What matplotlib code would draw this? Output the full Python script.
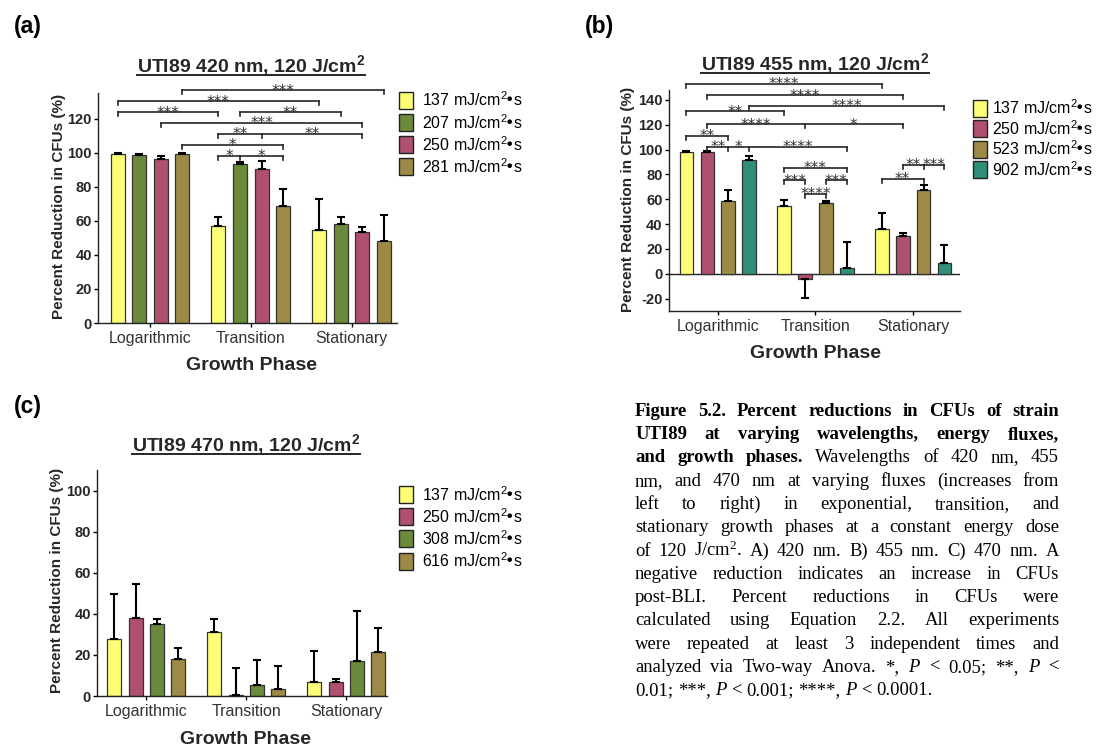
import matplotlib.pyplot as plt
import numpy as np
from matplotlib.patches import Rectangle
from matplotlib.lines import Line2D

plt.rcParams['font.family'] = 'Liberation Sans'
plt.rcParams['mathtext.default'] = 'regular'
plt.rcParams['axes.unicode_minus'] = False

W, H = 1096, 748
TXT = '#262626'

# ---- data -------------------------------------------------------------
phases = ['Logarithmic', 'Transition', 'Stationary']

# (a) 420 nm
flux_a = ['137', '207', '250', '281']
vals_a = [[99.2, 57.0, 54.6], [98.8, 93.3, 57.9], [96.4, 90.3, 53.4], [99.2, 68.9, 48.3]]
errs_a = [[0.5, 5.5, 18.4], [0.6, 1.0, 4.6], [1.4, 4.6, 3.0], [0.5, 9.9, 14.9]]

# (b) 455 nm
flux_b = ['137', '250', '523', '902']
vals_b = [[98.4, 54.2, 36.2], [98.4, -4.0, 30.3], [58.4, 56.6, 67.3], [91.7, 4.6, 8.8]]
errs_b = [[0.4, 5.6, 13.1], [0.5, 15.6, 2.9], [9.4, 2.4, 4.3], [2.9, 20.6, 14.0]]

# (c) 470 nm
flux_c = ['137', '250', '308', '616']
vals_c = [[27.6, 31.0, 7.0], [37.8, 0.3, 6.7], [35.1, 5.4, 17.2], [17.9, 3.2, 21.3]]
errs_c = [[22.1, 6.5, 15.1], [16.7, 13.2, 1.7], [2.4, 12.3, 24.2], [5.3, 11.4, 11.8]]

# significance brackets: ([(phase, bar), ...], level, [labels per segment])
sig_a = [
    ([(0, 3), (2, 3)], 136.7, ['***']),
    ([(0, 0), (2, 0)], 130.2, ['***']),
    ([(0, 0), (1, 0)], 123.7, ['***']),
    ([(1, 1), (2, 1)], 123.7, ['**']),
    ([(0, 2), (2, 2)], 117.6, ['***']),
    ([(1, 0), (1, 2), (2, 2)], 111.0, ['**', '**']),
    ([(0, 3), (1, 3)], 104.7, ['*']),
    ([(1, 0), (1, 1), (1, 3)], 98.2, ['*', '*']),
]
sig_b = [
    ([(0, 0), (2, 0)], 153.0, ['****']),
    ([(0, 1), (2, 1)], 144.0, ['****']),
    ([(0, 3), (2, 3)], 135.4, ['****']),
    ([(0, 0), (1, 0)], 130.8, ['**']),
    ([(0, 1), (1, 1), (2, 1)], 120.6, ['****', '*']),
    ([(0, 0), (0, 2)], 111.3, ['**']),
    ([(0, 1), (0, 2), (0, 3), (1, 3)], 102.2, ['**', '*', '****']),
    ([(1, 0), (1, 3)], 85.3, ['***']),
    ([(1, 0), (1, 1)], 75.3, ['***']),
    ([(1, 2), (1, 3)], 75.3, ['***']),
    ([(1, 1), (1, 2)], 64.4, ['****']),
    ([(2, 1), (2, 2), (2, 3)], 87.9, ['**', '***']),
    ([(2, 0), (2, 2)], 76.4, ['**']),
]

yellow, green, pink, olive, teal = '#FFFF77', '#6B8B3A', '#B0506F', '#9C8A46', '#2F8F78'
cols_a = [yellow, green, pink, olive]
cols_b = [yellow, pink, olive, teal]
cols_c = [yellow, pink, green, olive]

caption = [
    [('bold', 'Figure 5.2. Percent reductions in CFUs of strain')],
    [('bold', 'UTI89 at varying wavelengths, energy fluxes,')],
    [('bold', 'and growth phases.'), ('normal', 'Wavelengths of 420 nm, 455')],
    [('normal', 'nm, and 470 nm at varying fluxes (increases from')],
    [('normal', 'left to right) in exponential, transition, and')],
    [('normal', 'stationary growth phases at a constant energy dose')],
    [('normal', 'of 120 J/cm$^2$. A) 420 nm. B) 455 nm. C) 470 nm. A')],
    [('normal', 'negative reduction indicates an increase in CFUs')],
    [('normal', 'post-BLI. Percent reductions in CFUs were')],
    [('normal', 'calculated using Equation 2.2. All experiments')],
    [('normal', 'were repeated at least 3 independent times and')],
    [('normal', 'analyzed via Two-way Anova. *,'), ('italic', 'P'), ('normal', '< 0.05; **,'),
     ('italic', 'P'), ('normal', '<')],
    [('normal', '0.01; ***,'), ('italic', 'P'), ('normal', '< 0.001; ****,'), ('italic', 'P'),
     ('normal', '< 0.0001.')],
]

# ---- helpers ----------------------------------------------------------
fig = plt.figure(figsize=(W / 100, H / 100), dpi=100)
renderer = fig.canvas.get_renderer()

BAR_W, STEP = 0.14, 0.214
offs = [(i - 1.5) * STEP for i in range(4)]


def fx(px):
    return px / W


def fy(py):
    return 1 - py / H


def panel(rect, vals, errs, cols, ylim, xlim, yticks):
    ax = fig.add_axes([fx(rect[0]), fy(rect[1]), rect[2] / W, rect[3] / H])
    x = np.arange(len(phases))
    for i, (v, e, c) in enumerate(zip(vals, errs, cols)):
        v = np.array(v)
        e = np.array(e)
        ax.bar(x + offs[i], v, BAR_W, color=c, edgecolor='#333333', linewidth=0.9, zorder=2)
        lo = np.where(v < 0, e, 0)
        hi = np.where(v >= 0, e, 0)
        ax.errorbar(x + offs[i], v, yerr=[lo, hi], fmt='none', ecolor='black',
                    elinewidth=1.5, capsize=3.2, capthick=1.5, zorder=3)
    ax.set_xlim(*xlim)
    ax.set_ylim(*ylim)
    ax.set_yticks(yticks)
    ax.set_xticks(x)
    ax.set_xticklabels(phases, fontsize=11.5, color='#333333')
    for lab in ax.get_yticklabels():
        lab.set_fontweight('bold')
        lab.set_fontsize(10.5)
        lab.set_color(TXT)
    ax.tick_params(axis='y', length=3, width=1, pad=1.5)
    ax.tick_params(axis='x', length=3, width=1, pad=3)
    for s in ['top', 'right']:
        ax.spines[s].set_visible(False)
    for s in ['left', 'bottom']:
        ax.spines[s].set_linewidth(1.0)
        ax.spines[s].set_color('#222222')
    return ax


def brackets(ax, sig, tick_px=4):
    y0, y1 = ax.get_ylim()
    hpx = ax.get_position().height * H
    tick = tick_px * (y1 - y0) / hpx
    for pts, y, labels in sig:
        xs = [g + offs[i] for g, i in pts]
        ax.plot([xs[0], xs[-1]], [y, y], color=TXT, lw=1.2, clip_on=False, zorder=4)
        for xx in xs:
            ax.plot([xx, xx], [y, y - tick], color=TXT, lw=1.2, clip_on=False, zorder=4)
        for k, lab in enumerate(labels):
            ax.annotate(lab, ((xs[k] + xs[k + 1]) / 2, y), xytext=(0, -4),
                        textcoords='offset points', ha='center', va='baseline',
                        family='DejaVu Sans', fontsize=11, color='#333333',
                        annotation_clip=False)


def title(cx, py, text):
    t = fig.text(fx(cx), fy(py), text, ha='center', va='baseline', fontsize=14,
                 fontweight='bold', color=TXT)
    bb = t.get_window_extent(renderer)
    fig.add_artist(Line2D([bb.x0 / W, bb.x1 / W], [fy(py + 3)] * 2, color=TXT, lw=1.4))


def legend(px, py, dy, gap, fluxes, cols):
    for k, (f, c) in enumerate(zip(fluxes, cols)):
        yc = py + k * dy
        fig.add_artist(Rectangle((fx(px), fy(yc + 8.5)), 14 / W, 17 / H, transform=fig.transFigure,
                                 facecolor=c, edgecolor='#222222', lw=1))
        fig.text(fx(px + gap), fy(yc), f + r' mJ/cm$^2\!$•s', va='center', ha='left',
                 fontsize=11.5, color='black')


def labels(ylab_x, ylab_y, xlab_x, xlab_y):
    fig.text(fx(ylab_x), fy(ylab_y), 'Percent Reduction in CFUs (%)', rotation=90,
             ha='center', va='center', fontsize=11, fontweight='bold', color=TXT)
    fig.text(fx(xlab_x), fy(xlab_y), 'Growth Phase', ha='center', va='center',
             fontsize=14, fontweight='bold', color=TXT)


# ---- panel (a) --------------------------------------------------------
ax_a = panel((98, 323, 299, 230), vals_a, errs_a, cols_a, (0, 135), (-0.515, 2.45),
             range(0, 121, 20))
brackets(ax_a, sig_a)
title(251, 72, 'UTI89 420 nm, 120 J/cm$^2$')
legend(399, 100, 22.2, 23, flux_a, cols_a)
labels(59, 206, 251, 366)

# ---- panel (b) --------------------------------------------------------
ax_b = panel((669, 311, 291, 221), vals_b, errs_b, cols_b, (-30, 148), (-0.5, 2.48),
             range(-20, 141, 20))
ax_b.axhline(0, color='#222222', lw=1.0, zorder=1)
brackets(ax_b, sig_b)
title(815, 70, 'UTI89 455 nm, 120 J/cm$^2$')
legend(973, 108, 20.5, 19, flux_b, cols_b)
labels(628, 199, 815, 354)

# ---- panel (c) --------------------------------------------------------
ax_c = panel((97.3, 696, 289.4, 226), vals_c, errs_c, cols_c, (0, 110), (-0.49, 2.405),
             range(0, 101, 20))
title(246, 451, 'UTI89 470 nm, 120 J/cm$^2$')
legend(399, 494.5, 22.2, 23, flux_c, cols_c)
labels(57, 580, 246, 740)

# panel tags
for tag, px, py in [('(a)', 28, 26), ('(b)', 599, 26), ('(c)', 28, 407)]:
    fig.text(fx(px), fy(py), tag, ha='center', va='center', fontsize=16.5,
             fontweight='bold', color='black')

# ---- justified caption ------------------------------------------------
CAP_L, CAP_R, CAP_Y, CAP_DY, CAP_FS = 635, 1059, 415.7, 23.3, 13.4
for n, line in enumerate(caption):
    words = []
    for style, seg in line:
        for w in seg.split():
            words.append((w, style))
    arts = []
    for w, style in words:
        t = fig.text(0, fy(CAP_Y + n * CAP_DY), w, family='Liberation Serif', fontsize=CAP_FS,
                     fontweight='bold' if style == 'bold' else 'normal',
                     style='italic' if style == 'italic' else 'normal',
                     va='baseline', ha='left', color='black')
        arts.append((t, t.get_window_extent(renderer).width))
    total = sum(wd for _, wd in arts)
    if n == len(caption) - 1:
        gap = CAP_FS * 100 / 72 * 0.25
    else:
        gap = (CAP_R - CAP_L - total) / (len(arts) - 1)
    x = CAP_L
    for t, wd in arts:
        t.set_x(fx(x))
        x += wd + gap

fig.savefig('out.png', dpi=100)
